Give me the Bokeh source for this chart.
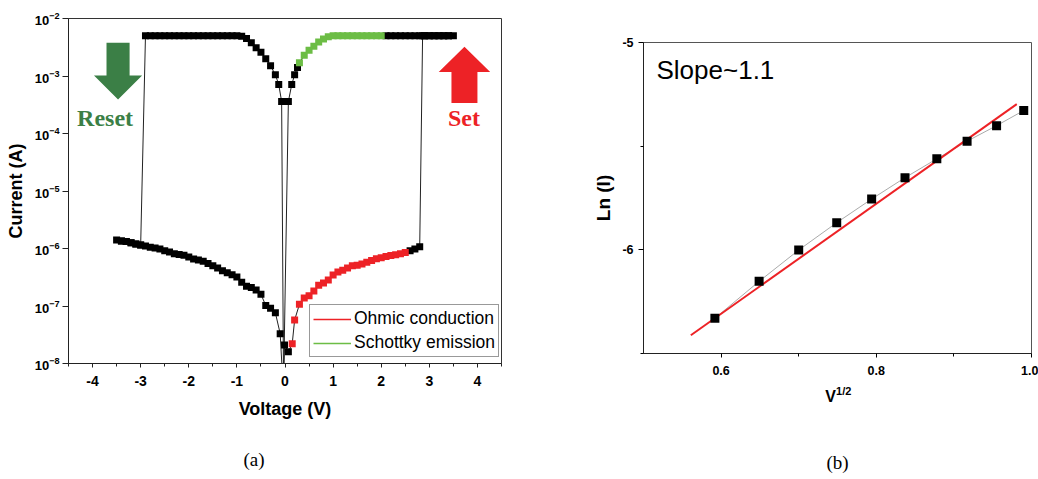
from bokeh.plotting import figure
from bokeh.models import (Range1d, FixedTicker, NumeralTickFormatter, Label, Legend,
                          LegendItem, PolyAnnotation, LinearAxis)
from bokeh.layouts import row
from bokeh.embed import file_html
from bokeh.resources import INLINE

FONT = "Liberation Sans"
SERIF = "Liberation Serif"
RED = "#ED2226"
GREEN = "#6CBD45"
DKGREEN = "#3B7F46"

# ---------------- (a) I-V data, in sweep order ----------------
hrs_start_v = [-0.04, -0.01, 0.07]
hrs_start_i = [4e-9, 2.1e-8, 1.6e-8]

ohmic_v = [0.15, 0.2, 0.3, 0.4, 0.5, 0.6, 0.7, 0.8, 0.9, 1.0, 1.1, 1.2, 1.3,
           1.4, 1.5, 1.6, 1.7, 1.8, 1.9, 2.0, 2.1, 2.2, 2.3, 2.4, 2.5]
ohmic_i = [2.2e-8, 5.7e-8, 1.07e-7, 1.38e-7, 1.51e-7, 1.82e-7, 2.29e-7, 2.51e-7,
           2.82e-7, 3.47e-7, 3.89e-7, 4.17e-7, 4.57e-7, 5.01e-7, 5.13e-7, 5.37e-7,
           5.75e-7, 6.17e-7, 6.61e-7, 6.92e-7, 7.24e-7, 7.59e-7, 7.76e-7, 8.13e-7,
           8.51e-7]

hrs_set_v = [2.6, 2.7, 2.8]
hrs_set_i = [9.1e-7, 9.8e-7, 1.07e-6]

lrs_pos_v = [2.86, 2.9, 3.0, 3.1, 3.2, 3.3, 3.4, 3.5, 3.4, 3.3, 3.2, 3.1, 3.0,
             2.9, 2.8, 2.7, 2.6, 2.5, 2.4, 2.3, 2.2, 2.1]
lrs_pos_i = [5.0e-3, 5.0e-3, 5.0e-3, 5.0e-3, 5.0e-3, 5.0e-3, 5.0e-3, 5.0e-3,
             5.0e-3, 5.0e-3, 5.0e-3, 5.0e-3, 5.0e-3, 5.0e-3, 5.0e-3, 5.0e-3,
             5.0e-3, 5.0e-3, 5.0e-3, 5.0e-3, 5.0e-3, 5.0e-3]

schottky_v = [2.0, 1.9, 1.8, 1.7, 1.6, 1.5, 1.4, 1.3, 1.2, 1.1, 1.0, 0.9, 0.8,
              0.7, 0.6, 0.5, 0.4, 0.3]
schottky_i = [5.0e-3, 5.0e-3, 5.0e-3, 5.0e-3, 5.0e-3, 5.0e-3, 5.0e-3, 5.0e-3,
              5.0e-3, 5.0e-3, 5.0e-3, 4.8e-3, 4.4e-3, 3.9e-3, 3.3e-3, 2.8e-3,
              2.3e-3, 1.7e-3]

lrs_low_v = [0.26, 0.2, 0.14, 0.07]
lrs_low_i = [1.4e-3, 1.05e-3, 7.1e-4, 3.6e-4]

zero_v = [-0.03]
zero_i = [4e-9]

lrs_neg_v = [-0.07, -0.13, -0.2, -0.3, -0.4, -0.5, -0.6, -0.7, -0.8, -0.9,
             -1.0, -1.1, -1.2, -1.3, -1.4, -1.5, -1.6, -1.7, -1.8, -1.9,
             -2.0, -2.1, -2.2, -2.3, -2.4, -2.5, -2.6, -2.7, -2.8, -2.9]
lrs_neg_i = [3.6e-4, 7.1e-4, 1.05e-3, 1.5e-3, 2.0e-3, 2.6e-3, 3.1e-3, 3.8e-3,
             4.5e-3, 4.9e-3, 5.0e-3, 5.0e-3, 5.0e-3, 5.0e-3, 5.0e-3, 5.0e-3,
             5.0e-3, 5.0e-3, 5.0e-3, 5.0e-3, 5.0e-3, 5.0e-3, 5.0e-3, 5.0e-3,
             5.0e-3, 5.0e-3, 5.0e-3, 5.0e-3, 5.0e-3, 5.0e-3]

hrs_reset_v = [-3.0, -3.1, -3.2, -3.3, -3.4, -3.5]
hrs_reset_i = [1.15e-6, 1.20e-6, 1.26e-6, 1.32e-6, 1.35e-6, 1.41e-6]

hrs_return_v = [-3.4, -3.3, -3.2, -3.1, -3.0, -2.9, -2.8, -2.7, -2.6, -2.5, -2.4,
                -2.3, -2.2, -2.1, -2.0, -1.9, -1.8, -1.7, -1.6, -1.5, -1.4, -1.3,
                -1.2, -1.1, -1.0, -0.9, -0.8, -0.7, -0.6, -0.5, -0.4, -0.3, -0.2,
                -0.1]
hrs_return_i = [1.35e-6, 1.32e-6, 1.26e-6, 1.20e-6, 1.15e-6, 1.10e-6, 1.05e-6,
                1.02e-6, 9.8e-7, 9.1e-7, 8.7e-7, 8.1e-7, 7.9e-7, 7.6e-7, 7.1e-7,
                6.6e-7, 6.3e-7, 6.0e-7, 5.5e-7, 5.0e-7, 4.6e-7, 4.1e-7, 3.8e-7,
                3.5e-7, 3.2e-7, 2.6e-7, 2.2e-7, 2.1e-7, 1.9e-7, 1.6e-7, 1.02e-7,
                9.1e-8, 7.6e-8, 3.3e-8]

volt_ticks = [-4, -3, -2, -1, 0, 1, 2, 3, 4]
volt_minor = [-4.5, -3.5, -2.5, -1.5, -0.5, 0.5, 1.5, 2.5, 3.5, 4.5]
decade_ticks = [1e-8, 1e-7, 1e-6, 1e-5, 1e-4, 1e-3, 1e-2]

# ---------------- (b) Schottky fit data ----------------
sqrt_v = [0.592, 0.649, 0.700, 0.749, 0.794, 0.837, 0.878, 0.917, 0.955, 0.990]
ln_i = [-6.330, -6.152, -6.001, -5.869, -5.755, -5.652, -5.561, -5.476, -5.401, -5.328]
fit_x = [0.561, 0.981]
fit_y = [-6.412, -5.297]
b_xticks = [0.6, 0.8, 1.0]
b_xminor = [0.7, 0.9]
b_yticks = [-6, -5]
b_yminor = [-6.5, -5.5]

# positions (data x) of caption / superscript texts below the frames
cap_a_x = -0.645
v_x = 0.741
sup_x = 0.758


def hidden_axis(tick, text, font, size, style, standoff):
    ax = LinearAxis(ticker=FixedTicker(ticks=[tick]),
                    major_label_overrides={tick: text},
                    axis_line_color=None, major_tick_line_color=None,
                    minor_tick_line_color=None, major_tick_in=0, major_tick_out=0,
                    minor_tick_in=0, minor_tick_out=0,
                    major_label_text_font=font, major_label_text_font_size=size,
                    major_label_text_font_style=style, major_label_text_color="black",
                    major_label_standoff=standoff)
    return ax


# ================= figure (a) =================
p1 = figure(width=588, height=479, x_range=Range1d(-4.5, 4.5),
            y_range=Range1d(1e-8, 1e-2), y_axis_type="log",
            output_backend="svg", toolbar_location=None,
            min_border_left=68, min_border_right=87, min_border_top=18,
            min_border_bottom=116)
p1.grid.visible = False
p1.outline_line_color = "#333333"
p1.background_fill_color = "white"
p1.border_fill_color = "white"

xa = p1.xaxis[0]
xa.ticker = FixedTicker(ticks=volt_ticks, minor_ticks=volt_minor)
xa.formatter = NumeralTickFormatter(format="0")
xa.major_label_text_font = FONT
xa.major_label_text_font_size = "14px"
xa.major_label_text_font_style = "bold"
xa.major_label_text_color = "black"
xa.major_label_standoff = 8
xa.major_tick_in = 0
xa.major_tick_out = 4
xa.minor_tick_in = 0
xa.minor_tick_out = 3
xa.axis_line_color = "#222222"
xa.major_tick_line_color = "#222222"
xa.minor_tick_line_color = "#222222"
xa.axis_label = "Voltage (V)"
xa.axis_label_text_font = FONT
xa.axis_label_text_font_size = "18px"
xa.axis_label_text_font_style = "bold"
xa.axis_label_text_color = "black"
xa.axis_label_standoff = 10

ya = p1.yaxis[0]
ya.ticker = FixedTicker(ticks=decade_ticks)
ya.major_label_text_font = FONT
ya.major_label_text_font_size = "13px"
ya.major_label_text_font_style = "bold"
ya.major_label_text_color = "black"
ya.major_label_standoff = 3
ya.major_tick_in = 0
ya.major_tick_out = 6
ya.minor_tick_line_color = None
ya.axis_line_color = "#222222"
ya.major_tick_line_color = "#222222"
ya.axis_label = "Current (A)"
ya.axis_label_text_font = FONT
ya.axis_label_text_font_size = "18px"
ya.axis_label_text_font_style = "bold"
ya.axis_label_text_color = "black"
ya.axis_label_standoff = 6

p1.add_layout(hidden_axis(cap_a_x, "(a)", SERIF, "19px", "normal", 27), "below")

path_v = (hrs_start_v + ohmic_v + hrs_set_v + lrs_pos_v + schottky_v + lrs_low_v
          + zero_v + lrs_neg_v + hrs_reset_v + hrs_return_v + hrs_start_v[:1])
path_i = (hrs_start_i + ohmic_i + hrs_set_i + lrs_pos_i + schottky_i + lrs_low_i
          + zero_i + lrs_neg_i + hrs_reset_i + hrs_return_i + hrs_start_i[:1])
p1.line(path_v, path_i, line_color="#222222", line_width=1)

black_v = hrs_start_v + hrs_set_v + lrs_pos_v + lrs_low_v + lrs_neg_v + hrs_reset_v + hrs_return_v
black_i = hrs_start_i + hrs_set_i + lrs_pos_i + lrs_low_i + lrs_neg_i + hrs_reset_i + hrs_return_i
p1.scatter(black_v, black_i, marker="square", size=7, fill_color="black", line_color=None)
p1.scatter(ohmic_v, ohmic_i, marker="square", size=7, fill_color=RED, line_color=None)
p1.scatter(schottky_v, schottky_i, marker="square", size=7, fill_color=GREEN, line_color=None)

# Reset / Set block arrows (annotation decoration)
rc, rsh, rhh = -3.47, 0.24, 0.50
r_top, r_base, r_tip = 3.8e-3, 1.02e-3, 3.9e-4
p1.add_layout(PolyAnnotation(
    xs=[rc - rsh, rc + rsh, rc + rsh, rc + rhh, rc, rc - rhh, rc - rsh],
    ys=[r_top, r_top, r_base, r_base, r_tip, r_base, r_base],
    fill_color=DKGREEN, fill_alpha=1, line_color=None))
sc, ssh, shh = 3.73, 0.27, 0.535
s_tip, s_base, s_bot = 3.24e-3, 1.17e-3, 3.4e-4
p1.add_layout(PolyAnnotation(
    xs=[sc - ssh, sc + ssh, sc + ssh, sc + shh, sc, sc - shh, sc - ssh],
    ys=[s_bot, s_bot, s_base, s_base, s_tip, s_base, s_base],
    fill_color=RED, fill_alpha=1, line_color=None))
p1.add_layout(Label(x=-3.74, y=1.88e-4, text="Reset", text_font=SERIF,
                    text_font_size="24px", text_font_style="bold",
                    text_color=DKGREEN, text_align="center", text_baseline="alphabetic"))
p1.add_layout(Label(x=3.72, y=1.88e-4, text="Set", text_font=SERIF,
                    text_font_size="24px", text_font_style="bold",
                    text_color=RED, text_align="center", text_baseline="alphabetic"))

r_ohm = p1.line(x=[0.0], y=[1e-12], line_color=RED, line_width=1.3)
r_sch = p1.line(x=[0.0], y=[1e-12], line_color=GREEN, line_width=1.3)
legend = Legend(items=[LegendItem(label="Ohmic conduction", renderers=[r_ohm]),
                       LegendItem(label="Schottky emission", renderers=[r_sch])],
                location=(241, 6), label_text_font=FONT, label_text_font_size="17.5px",
                label_text_color="black",
                glyph_width=38, glyph_height=20, label_height=20, label_standoff=3,
                spacing=3, padding=3, margin=0, border_line_color="#333333",
                border_line_width=1, background_fill_color="white",
                background_fill_alpha=1)
p1.add_layout(legend)

# ================= figure (b) =================
p2 = figure(width=450, height=479, x_range=Range1d(0.5, 1.0),
            y_range=Range1d(-6.5, -5.0), output_backend="svg",
            toolbar_location=None, min_border_left=55, min_border_right=7,
            min_border_top=42, min_border_bottom=126)
p2.grid.visible = False
p2.outline_line_color = "#555555"
p2.background_fill_color = "white"
p2.border_fill_color = "white"

bx = p2.xaxis[0]
bx.ticker = FixedTicker(ticks=b_xticks, minor_ticks=b_xminor)
bx.formatter = NumeralTickFormatter(format="0.0")
bx.major_label_text_font = FONT
bx.major_label_text_font_size = "12.5px"
bx.major_label_text_font_style = "bold"
bx.major_label_text_color = "black"
bx.major_label_standoff = 8
bx.major_tick_in = 0
bx.major_tick_out = 4
bx.minor_tick_in = 0
bx.minor_tick_out = 3
bx.axis_line_color = "#222222"

by = p2.yaxis[0]
by.ticker = FixedTicker(ticks=b_yticks, minor_ticks=b_yminor)
by.formatter = NumeralTickFormatter(format="0")
by.major_label_text_font = FONT
by.major_label_text_font_size = "12.5px"
by.major_label_text_font_style = "bold"
by.major_label_text_color = "black"
by.major_label_standoff = 5
by.major_tick_in = 0
by.major_tick_out = 5
by.minor_tick_in = 0
by.minor_tick_out = 3
by.axis_line_color = "#222222"
by.axis_label = "Ln (I)"
by.axis_label_text_font = FONT
by.axis_label_text_font_size = "19px"
by.axis_label_text_font_style = "bold"
by.axis_label_text_color = "black"
by.axis_label_standoff = 5

ax_sup = hidden_axis(sup_x, "1/2", FONT, "11px", "bold", 7)
ax_v = hidden_axis(v_x, "V", FONT, "16px", "bold", -12)
ax_v.axis_label = "(b)"
ax_v.axis_label_text_font = SERIF
ax_v.axis_label_text_font_size = "19px"
ax_v.axis_label_text_font_style = "normal"
ax_v.axis_label_text_color = "black"
ax_v.axis_label_standoff = 44
p2.add_layout(ax_sup, "below")
p2.add_layout(ax_v, "below")

p2.line(sqrt_v, ln_i, line_color="#aaaaaa", line_width=1)
p2.line(fit_x, fit_y, line_color=RED, line_width=2)
p2.scatter(sqrt_v, ln_i, marker="square", size=9, fill_color="black", line_color=None)

p2.add_layout(Label(x=0.5, y=-5.0, text="Slope~1.1", text_font=FONT,
                    text_font_size="26px", text_align="left", text_color="black",
                    text_baseline="alphabetic", x_offset=13, y_offset=-27))

for p in (p1, p2):
    if "frame_align" in type(p).properties():
        p.frame_align = False

layout = row(p1, p2)
open("out.html", "w").write(file_html(layout, INLINE))
